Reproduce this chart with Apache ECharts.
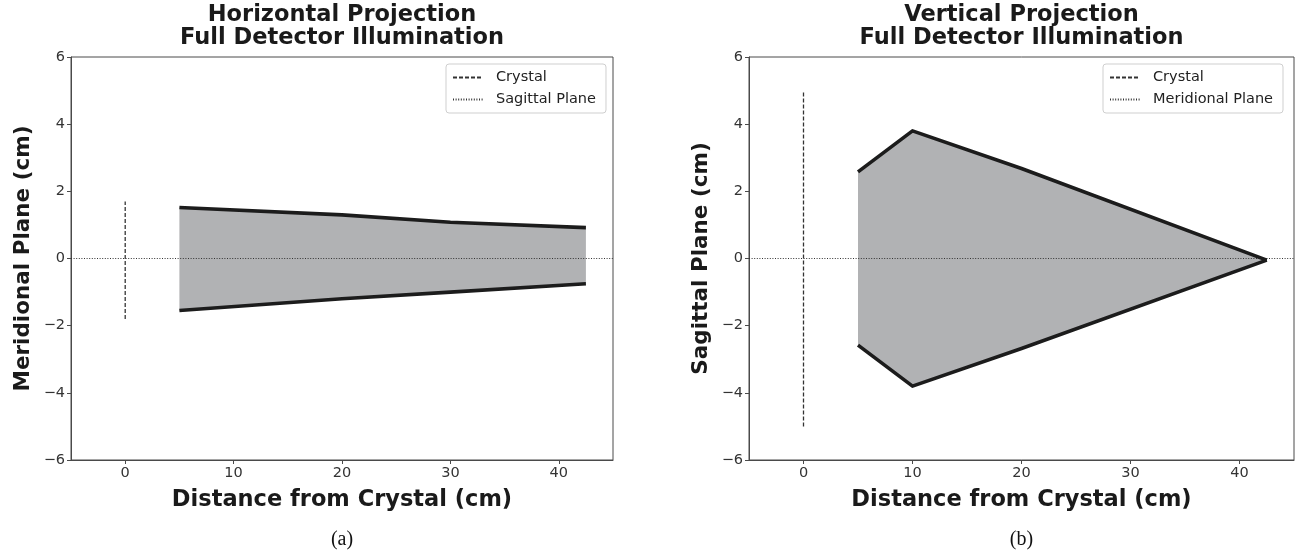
<!DOCTYPE html>
<html>
<head>
<meta charset="utf-8">
<script src="https://cdn.jsdelivr.net/npm/echarts@6/dist/echarts.min.js"></script>
<style>
  html, body { margin: 0; padding: 0; background: #fff; }
  #chart { width: 1301px; height: 560px; }
</style>
</head>
<body>
<div id="chart"></div>
<script>
// Horizontal projection: beam envelope in the meridional plane
const hDist = [5, 20, 30, 42.5];
const hUpper = [1.52, 1.3, 1.08, 0.92];
const hLower = [-1.55, -1.2, -1.0, -0.75];
const hCrystal = [-1.8, 1.7];

// Vertical projection: beam envelope in the sagittal plane
const vDist = [5, 10, 20, 42.5];
const vUpper = [2.58, 3.8, 2.68, -0.05];
const vLower = [-2.58, -3.8, -2.68, -0.05];
const vCrystal = [-5, 5];

// Shared axis settings
const xRange = [-5, 45];
const yRange = [-6, 6];
const xTicks = [0, 10, 20, 30, 40];
const titles = ['Horizontal Projection\nFull Detector Illumination', 'Vertical Projection\nFull Detector Illumination'];
const yNames = ['Meridional Plane (cm)', 'Sagittal Plane (cm)'];
const xName = 'Distance from Crystal (cm)';
const planeNames = ['Sagittal Plane', 'Meridional Plane'];
const panelLabels = ['(a)', '(b)'];

const FONT = 'DejaVu Sans';
const frame = '#4a4a4a';
const guide = '#333333';
const grids = [
  { left: 71, top: 57, width: 542, height: 403 },
  { left: 749, top: 57, width: 545, height: 403 }
];
const centers = grids.map(g => g.left + g.width / 2);

function xAxisOf(i) {
  return {
    type: 'value', gridIndex: i, min: xRange[0], max: xRange[1],
    name: xName, nameLocation: 'middle', nameGap: 29,
    nameTextStyle: { fontFamily: FONT, fontWeight: 'bold', fontSize: 22.5, color: '#1a1a1a' },
    axisLine: { onZero: false, lineStyle: { color: frame, width: 1 } },
    axisTick: { length: 4, customValues: xTicks, lineStyle: { color: frame } },
    axisLabel: { customValues: xTicks, fontFamily: FONT, fontSize: 14.5, color: '#333', margin: 6 },
    splitLine: { show: false }
  };
}
function yAxisOf(i) {
  return {
    type: 'value', gridIndex: i, min: yRange[0], max: yRange[1], interval: 2,
    name: yNames[i], nameLocation: 'middle', nameGap: 37,
    nameTextStyle: { fontFamily: FONT, fontWeight: 'bold', fontSize: 21.5, color: '#1a1a1a' },
    axisLine: { onZero: false, lineStyle: { color: frame, width: 1 } },
    axisTick: { length: 4, lineStyle: { color: frame } },
    axisLabel: {
      fontFamily: FONT, fontSize: 14.5, color: '#333', margin: 6,
      formatter: v => (v < 0 ? '\u2212' + Math.abs(v) : String(v))
    },
    splitLine: { show: false }
  };
}

// Closed envelope polygon filled in grey
function envelope(i, xs, up, lo) {
  return {
    type: 'custom', xAxisIndex: i, yAxisIndex: i, z: 1, silent: true,
    data: [0],
    renderItem: function (params, api) {
      const pts = [];
      xs.forEach((x, k) => pts.push(api.coord([x, up[k]])));
      for (let k = xs.length - 1; k >= 0; k--) pts.push(api.coord([xs[k], lo[k]]));
      return { type: 'polygon', shape: { points: pts }, style: { fill: '#b1b2b4', stroke: null } };
    }
  };
}
function edge(i, xs, ys) {
  return {
    type: 'line', xAxisIndex: i, yAxisIndex: i, z: 5, silent: true,
    symbol: 'none', data: xs.map((x, k) => [x, ys[k]]),
    itemStyle: { color: '#1c1c1c' },
    lineStyle: { color: '#1c1c1c', width: 3.6, join: 'round' }
  };
}
function crystal(i, span) {
  return {
    name: 'Crystal', type: 'line', xAxisIndex: i, yAxisIndex: i, z: 3, silent: true,
    symbol: 'none', data: [[0, span[0]], [0, span[1]]],
    itemStyle: { color: guide },
    lineStyle: { color: guide, width: 1.3, type: [4, 2] }
  };
}
function plane(i) {
  return {
    name: planeNames[i], type: 'line', xAxisIndex: i, yAxisIndex: i, z: 3, silent: true,
    symbol: 'none', data: [[xRange[0], 0], [xRange[1], 0]],
    itemStyle: { color: guide },
    lineStyle: { color: guide, width: 1.1, type: [1, 1.6] }
  };
}
function legendOf(i, left) {
  return {
    orient: 'vertical', left: left, top: 64,
    data: ['Crystal', planeNames[i]],
    itemWidth: 30, itemHeight: 12, itemGap: 7,
    padding: [6, 10, 6, 6],
    // line-only samples: hide the marker drawn in the middle of each sample
    itemStyle: { opacity: 0, color: 'transparent', borderWidth: 0 },
    borderColor: '#cfcfcf', borderWidth: 1, borderRadius: 3,
    backgroundColor: '#fff', selectedMode: false,
    textStyle: { fontFamily: FONT, fontSize: 14.5, color: '#222', padding: [0, 0, 0, 8] }
  };
}

const chart = echarts.init(document.getElementById('chart'), null, { renderer: 'canvas' });
chart.setOption({
  animation: false,
  backgroundColor: '#fff',
  grid: grids.map(g => Object.assign({ show: true, borderColor: frame, borderWidth: 1, backgroundColor: 'transparent' }, g)),
  xAxis: [xAxisOf(0), xAxisOf(1)],
  yAxis: [yAxisOf(0), yAxisOf(1)],
  legend: [legendOf(0, 446), legendOf(1, 1103)],
  series: [
    envelope(0, hDist, hUpper, hLower),
    plane(0), crystal(0, hCrystal),
    edge(0, hDist, hUpper), edge(0, hDist, hLower),
    envelope(1, vDist, vUpper, vLower),
    plane(1), crystal(1, vCrystal),
    edge(1, vDist, vUpper), edge(1, vDist, vLower)
  ],
  graphic: [0, 1].map(i => [
    {
      type: 'text', x: centers[i], y: 4,
      style: { text: titles[i], textAlign: 'center', textVerticalAlign: 'top', fontFamily: FONT, fontWeight: 'bold', fontSize: 22.5, lineHeight: 23, fill: '#1a1a1a' }
    },
    {
      type: 'text', x: centers[i], y: 540,
      style: { text: panelLabels[i], textAlign: 'center', textVerticalAlign: 'middle', fontFamily: 'Liberation Serif', fontSize: 20, fill: '#111' }
    }
  ]).flat()
});
</script>
</body>
</html>
